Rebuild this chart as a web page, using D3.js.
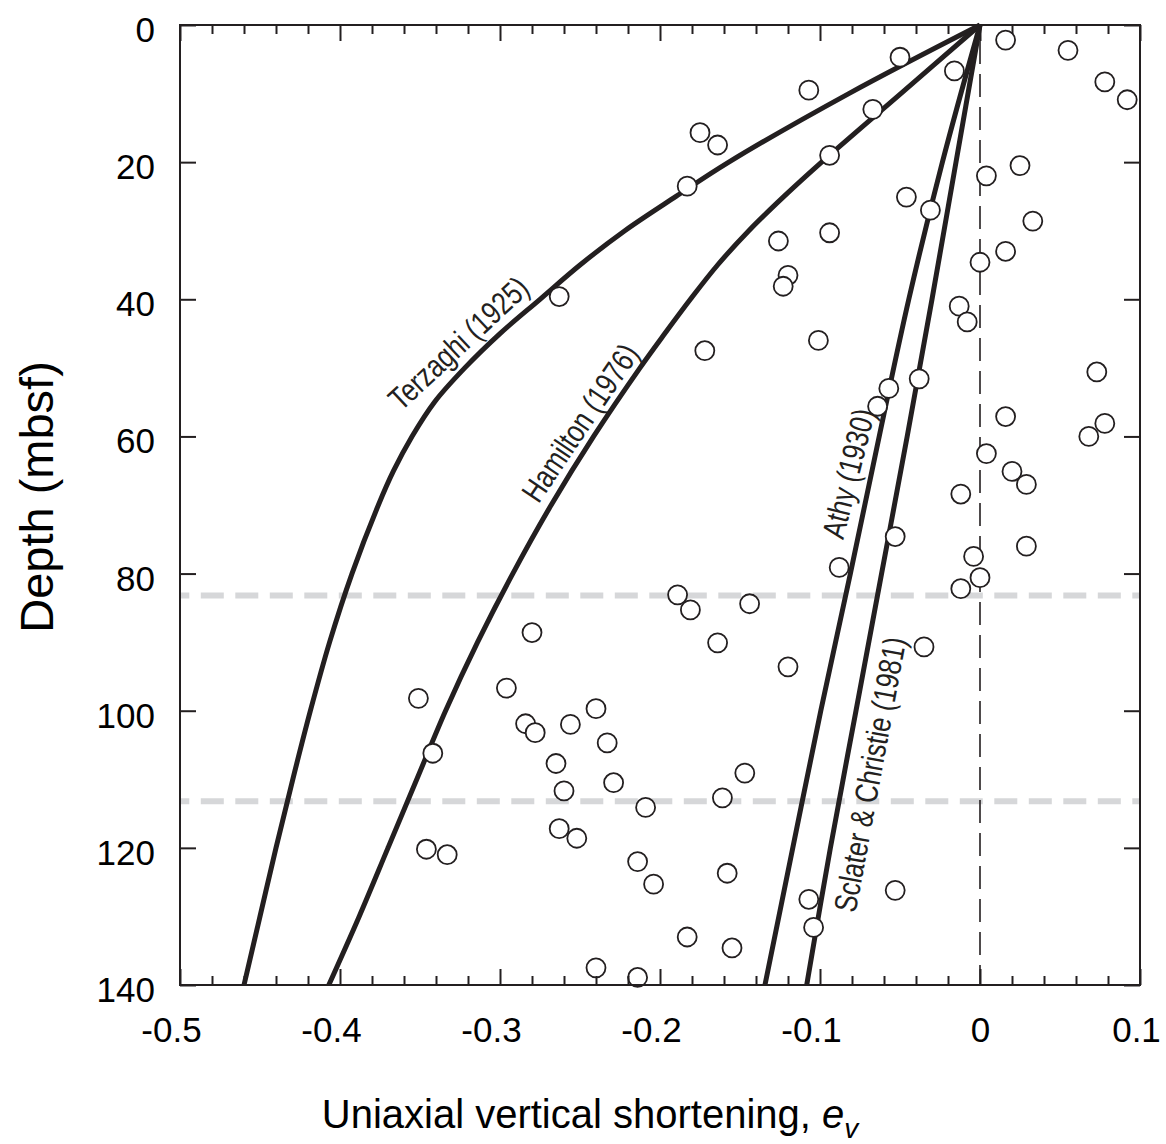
<!DOCTYPE html>
<html><head><meta charset="utf-8">
<script src="https://cdn.jsdelivr.net/npm/d3@7"></script>
<style>body{margin:0;background:#fff;} svg{display:block;}</style>
</head><body><svg id="c" width="1166" height="1144"></svg>
<script>
// ---------- data ----------
const xTicks = [-0.5,-0.4,-0.3,-0.2,-0.1,0,0.1];
const xTickLabels = ["-0.5","-0.4","-0.3","-0.2","-0.1","0","0.1"];
const yTicks = [0,20,40,60,80,100,120,140];
const yTickLabels = ["0","20","40","60","80","100","120","140"];

const terzaghiDepth = [0,10,20,25,30,35,40,45,50,55,60,65,70,80,90,100,110,120,130,140];
const terzaghiEv    = [0,-0.082,-0.157,-0.190,-0.222,-0.250,-0.275,-0.300,-0.322,-0.341,-0.355,-0.3665,-0.376,-0.3925,-0.4065,-0.4185,-0.4295,-0.440,-0.450,-0.460];
const hamiltonDepth = [0,10,20,25,30,35,40,45,50,60,70,80,90,100,110,120,130,140];
const hamiltonEv    = [0,-0.0495,-0.099,-0.1225,-0.1445,-0.164,-0.181,-0.197,-0.2125,-0.2415,-0.268,-0.292,-0.314,-0.334,-0.352,-0.370,-0.388,-0.407];
const athyDepth     = [0,20,40,60,80,100,120,140];
const athyEv        = [0,-0.0235,-0.0445,-0.063,-0.081,-0.0995,-0.117,-0.1344];
const sclaterDepth  = [0,20,40,60,80,100,120,140];
const sclaterEv     = [0,-0.015,-0.030,-0.0455,-0.0615,-0.0775,-0.0935,-0.1083];

const pointEv = [0.016,0.055,-0.050,-0.016,0.078,0.092,-0.107,-0.067,-0.175,-0.164,-0.094,-0.183,0.004,0.025,-0.046,-0.031,0.033,-0.126,-0.094,0.016,0.000,-0.120,-0.123,-0.013,-0.008,-0.172,-0.101,0.073,-0.057,-0.064,-0.038,0.016,0.078,0.068,0.004,0.020,0.029,-0.012,-0.263,
  -0.053,-0.088,0.029,-0.004,0.000,-0.012,-0.189,-0.181,-0.144,-0.164,-0.120,-0.035,-0.147,-0.161,-0.204,-0.158,-0.107,-0.104,-0.053,-0.183,-0.155,
  -0.280,-0.351,-0.296,-0.284,-0.278,-0.256,-0.240,-0.233,-0.342,-0.265,-0.260,-0.229,-0.209,-0.263,-0.252,-0.346,-0.333,-0.214,-0.240,-0.214];
const pointDepth = [2.2,3.7,4.7,6.7,8.3,10.9,9.5,12.3,15.7,17.5,19.0,23.5,22.0,20.5,25.1,27.0,28.6,31.5,30.3,33.0,34.6,36.5,38.1,41.0,43.3,47.5,46.0,50.6,53.0,55.6,51.6,57.1,58.1,60.0,62.5,65.1,67.0,68.4,39.6,
  74.6,79.1,76.0,77.5,80.6,82.2,83.1,85.3,84.4,90.1,93.6,90.7,109.1,112.7,125.3,123.7,127.5,131.6,126.2,133.0,134.6,
  88.6,98.2,96.7,101.9,103.2,102.0,99.7,104.7,106.2,107.7,111.7,110.5,114.1,117.2,118.6,120.2,121.0,122.0,137.5,138.9];

const grayLineDepths = [83.2, 113.2];

const labelText  = ["Terzaghi (1925)","Hamilton (1976)","Athy (1930)","Sclater & Christie (1981)"];
const labelEv    = [-0.326,-0.250,-0.0823,-0.0688];
const labelDepth = [46.4,58.0,65.4,109.3];

// ---------- drawing ----------
const svg = d3.select("#c");
const ink = "#231f20";
const font = "'Liberation Sans', Arial, Helvetica, sans-serif";
const x = d3.scaleLinear().domain([-0.5,0.1]).range([180,1140]);
const y = d3.scaleLinear().domain([0,140]).range([25,985]);

// gray dashed horizontal lines
svg.append("g").selectAll("line").data(grayLineDepths).join("line")
  .attr("x1", x(-0.5)).attr("x2", x(0.1))
  .attr("y1", d=>y(d)).attr("y2", d=>y(d))
  .attr("stroke","#d6d7d9").attr("stroke-width",6)
  .attr("stroke-dasharray","23,11.5").attr("stroke-dashoffset",13.7);

// vertical dashed zero line
svg.append("line")
  .attr("x1", x(0)).attr("x2", x(0)).attr("y1", y(0)).attr("y2", y(140))
  .attr("stroke", ink).attr("stroke-width",1.6)
  .attr("stroke-dasharray","23,10").attr("stroke-dashoffset",17);

// curves
const curves = [
  d3.zip(terzaghiEv, terzaghiDepth),
  d3.zip(hamiltonEv, hamiltonDepth),
  d3.zip(athyEv, athyDepth),
  d3.zip(sclaterEv, sclaterDepth)
];
const line = d3.line().x(d=>x(d[0])).y(d=>y(d[1])).curve(d3.curveCatmullRom.alpha(0.5));
svg.append("g").selectAll("path").data(curves).join("path")
  .attr("d", line).attr("fill","none").attr("stroke", ink)
  .attr("stroke-width",5).attr("stroke-linejoin","round");

// curve labels
const labelAngle = [-43,-56,-76,-79.5];
svg.append("g").selectAll("text").data(labelText).join("text")
  .attr("transform",(d,i)=>`translate(${x(labelEv[i])},${y(labelDepth[i])}) rotate(${labelAngle[i]}) scale(0.8,1)`)
  .attr("text-anchor","middle").attr("dy","0.35em")
  .attr("font-family", font)
  .attr("font-size",32).attr("fill", ink)
  .text(d=>d);

// data points
svg.append("g").selectAll("circle").data(d3.zip(pointEv, pointDepth)).join("circle")
  .attr("cx", d=>x(d[0])).attr("cy", d=>y(d[1])).attr("r", 9.5)
  .attr("fill","#fff").attr("stroke", ink).attr("stroke-width",1.8);

// axes
function style(g){
  g.select(".domain").remove();
  g.selectAll(".tick line").attr("stroke", ink).attr("stroke-width",2);
  g.selectAll("text").attr("font-family", font).attr("font-size",35).attr("fill","#000");
}
const minor = x.ticks(30).filter(v => !xTicks.some(t => Math.abs(t-v) < 1e-9));

svg.append("g").attr("transform",`translate(0,${y(140)})`)
  .call(d3.axisBottom(x).tickValues(minor).tickSize(-9).tickFormat(""))
  .call(style);
svg.append("g").attr("transform",`translate(0,${y(0)})`)
  .call(d3.axisTop(x).tickValues(minor).tickSize(-9).tickFormat(""))
  .call(style);
svg.append("g").attr("transform",`translate(0,${y(0)})`)
  .call(d3.axisTop(x).tickValues(xTicks).tickSize(-16).tickFormat(""))
  .call(style);
const bottom = svg.append("g").attr("transform",`translate(0,${y(140)})`)
  .call(d3.axisBottom(x).tickValues(xTicks).tickSize(-16).tickPadding(32)
        .tickFormat((d,i)=>xTickLabels[i]))
  .call(style);
bottom.selectAll(".tick text").attr("dx", d => d < 0 ? -9 : (d > 0 ? -4 : 0));

const left = svg.append("g").attr("transform",`translate(${x(-0.5)},0)`)
  .call(d3.axisLeft(y).tickValues(yTicks).tickSize(-16).tickPadding(25)
        .tickFormat((d,i)=>yTickLabels[i]))
  .call(style);
left.selectAll(".tick text").attr("dy","0.47em");
svg.append("g").attr("transform",`translate(${x(0.1)},0)`)
  .call(d3.axisRight(y).tickValues(yTicks).tickSize(-16).tickFormat(""))
  .call(style);

// frame
svg.append("rect").attr("x", x(-0.5)).attr("y", y(0))
  .attr("width", x(0.1)-x(-0.5)).attr("height", y(140)-y(0))
  .attr("fill","none").attr("stroke", ink).attr("stroke-width",2);

// axis titles
svg.append("text")
  .attr("transform",`translate(53,${(y(0)+y(140))/2 - 8}) rotate(-90)`)
  .attr("text-anchor","middle").attr("font-family", font).attr("font-size",47).attr("fill","#000")
  .text("Depth (mbsf)");

const xt = svg.append("text")
  .attr("x", 590).attr("y", 1128)
  .attr("text-anchor","middle").attr("font-family", font).attr("font-size",40).attr("fill","#000");
xt.append("tspan").text("Uniaxial vertical shortening, ");
xt.append("tspan").attr("font-style","italic").text("e");
xt.append("tspan").attr("font-style","italic").attr("font-size",28).attr("dy",10).text("v");
</script></body></html>
